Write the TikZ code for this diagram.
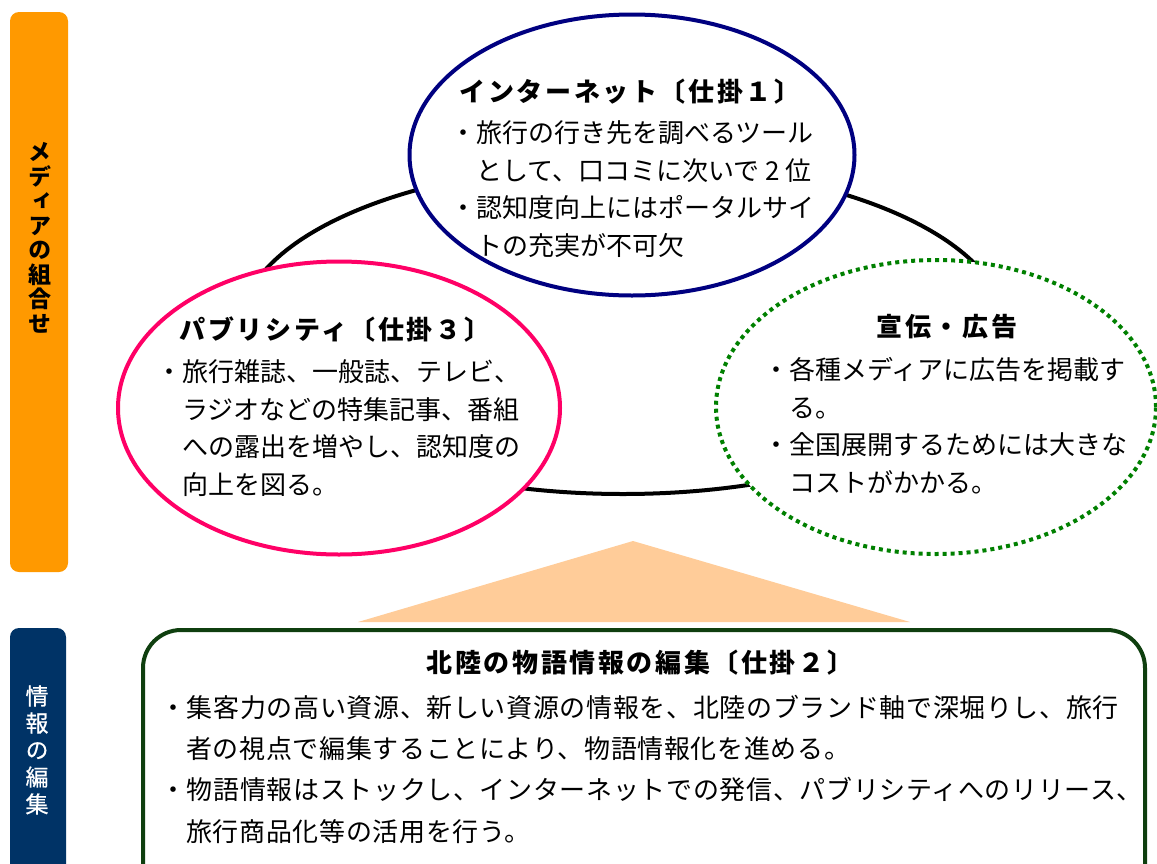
\documentclass[tikz,border=0pt]{standalone}
\usepackage{fontspec}
\setmainfont{Noto Sans CJK JP}
\newfontfamily\jpv[RawFeature=+vert]{Noto Sans CJK JP}
\usetikzlibrary{shapes.geometric}
\definecolor{sideorange}{HTML}{FF9900}
\definecolor{sidenavy}{HTML}{003366}
\definecolor{netblue}{HTML}{000080}
\definecolor{pubpink}{HTML}{FF0066}
\definecolor{adgreen}{HTML}{008000}
\definecolor{peach}{HTML}{FFCC99}
\definecolor{boxgreen}{HTML}{0F3F0F}
\tikzset{
  oval/.style={ellipse, line width=4pt, inner sep=0pt, fill=white},
  title/.style={font=\fontsize{26}{30}\selectfont\bfseries\addfontfeature{LetterSpace=10}, inner sep=0pt},
  body/.style={font=\fontsize{26}{37.4}\selectfont, align=left, inner sep=0pt, anchor=base west},
  sidetext/.style={align=center, inner sep=0pt}
}
\begin{document}
\begin{tikzpicture}[x=1pt,y=-1pt]
\useasboundingbox (0,0) rectangle (1157,863);
% sidebars
\fill[sideorange, rounded corners=9pt] (10,12) rectangle (68,572);
\node[sidetext, font=\fontsize{23}{24.5}\selectfont\jpv\bfseries] (sidetop) at (40,238)
  {メ\\デ\\ィ\\ア\\の\\組\\合\\せ};
\fill[sidenavy, rounded corners=9pt] (10,628) rectangle (66,900);
\node[sidetext, text=white, font=\fontsize{23}{27}\selectfont\jpv\addfontfeature{FakeBold=0.6}] (sidebot) at (37,750)
  {情\\報\\の\\編\\集};
% ellipses
\node[oval, draw=black, fill=none, minimum width=766pt, minimum height=330pt] (ring) at (623,329) {};
\node[oval, draw=netblue, minimum width=445pt, minimum height=281pt] (net) at (632,155) {};
\node[oval, draw=pubpink, minimum width=442pt, minimum height=293pt] (pub) at (339,408) {};
\node[oval, draw=adgreen, dash pattern=on 4pt off 4pt, minimum width=440pt, minimum height=294pt] (ad) at (936,407) {};
% triangle
\fill[peach] (633,541) -- (910,622) -- (358,622) -- cycle;
% bottom box
\begin{scope}
\clip (0,0) rectangle (1157,863);
\draw[boxgreen, line width=4pt, rounded corners=38pt] (143,630) rectangle (1145,920);
\end{scope}
% texts (anchor = baseline of the last line)
\node[title] (nettitle) at (630,92) {インターネット〔仕掛１〕};
\node[body] (nettext) at (450,255) {・旅行の行き先を調べるツール\\\phantom{・}として、口コミに次いで 2 位\\・認知度向上にはポータルサイ\\\phantom{・}トの充実が不可欠};
\node[title] (pubtitle) at (335,330) {パブリシティ〔仕掛３〕};
\node[body] (pubtext) at (156,494) {・旅行雑誌、一般誌、テレビ、\\\phantom{・}ラジオなどの特集記事、番組\\\phantom{・}への露出を増やし、認知度の\\\phantom{・}向上を図る。};
\node[title] (adtitle) at (947,327) {宣伝・広告};
\node[body] (adtext) at (763,492) {・各種メディアに広告を掲載す\\\phantom{・}る。\\・全国展開するためには大きな\\\phantom{・}コストがかかる。};
\node[title] (edittitle) at (640,663) {北陸の物語情報の編集〔仕掛２〕};
\node[body, font=\fontsize{26}{41.3}\selectfont\addfontfeature{LetterSpace=2.5}] (edittext) at (160,841) {・集客力の高い資源、新しい資源の情報を、北陸のブランド軸で深堀りし、旅行\\\phantom{・}者の視点で編集することにより、物語情報化を進める。\\・物語情報はストックし、インターネットでの発信、パブリシティへのリリース、\\\phantom{・}旅行商品化等の活用を行う。};
\end{tikzpicture}
\end{document}
